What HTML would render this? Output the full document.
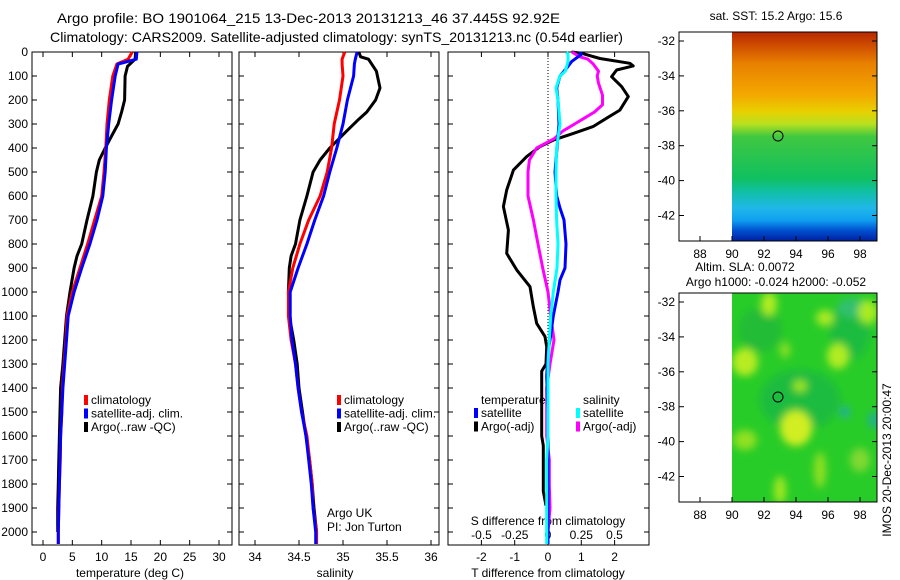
<!DOCTYPE html>
<html><head><meta charset="utf-8"><style>
html,body{margin:0;padding:0;background:#fff}
svg{display:block}
text{font-family:"Liberation Sans",sans-serif;font-size:12px;fill:#000}
</style></head><body>
<svg id="c" width="900" height="580" viewBox="0 0 900 580" xmlns="http://www.w3.org/2000/svg">
<defs>
<linearGradient id="sstg" x1="0" y1="0" x2="0" y2="1">
<stop offset="0" stop-color="#b82800"/><stop offset="0.07" stop-color="#d05000"/>
<stop offset="0.15" stop-color="#e88000"/><stop offset="0.3" stop-color="#f4a800"/>
<stop offset="0.38" stop-color="#e8d000"/><stop offset="0.44" stop-color="#b8e020"/>
<stop offset="0.5" stop-color="#40c840"/><stop offset="0.7" stop-color="#10c060"/>
<stop offset="0.76" stop-color="#10c0a0"/><stop offset="0.84" stop-color="#20b8e8"/>
<stop offset="0.9" stop-color="#10a0f0"/><stop offset="0.95" stop-color="#0050d0"/>
<stop offset="1" stop-color="#0020a0"/></linearGradient>
<filter id="blr" x="-50%" y="-50%" width="200%" height="200%"><feGaussianBlur stdDeviation="4"/></filter>
<clipPath id="clipSLA"><rect x="732" y="293" width="145" height="209"/></clipPath>
</defs>
<g id="titles">
<text x="57" y="23" textLength="503" lengthAdjust="spacingAndGlyphs" style="font-size:14px">Argo profile: BO 1901064_215 13-Dec-2013 20131213_46 37.445S 92.92E</text>
<text x="50" y="42" textLength="573" lengthAdjust="spacingAndGlyphs" style="font-size:14px">Climatology: CARS2009. Satellite-adjusted climatology: synTS_20131213.nc (0.54d earlier)</text>
</g>
<g id="p1"></g>
<g id="p2"></g>
<g id="p3"></g>
<g id="maps">
<text x="776" y="20" text-anchor="middle">sat. SST: 15.2 Argo: 15.6</text>
<rect x="732" y="32" width="145" height="209" fill="url(#sstg)"/>
<rect x="679" y="32" width="198" height="209" fill="none" stroke="#000"/>
<circle cx="778" cy="136" r="5" fill="none" stroke="#000"/>
<text x="745" y="271" text-anchor="middle">Altim. SLA: 0.0072</text>
<text x="776" y="286" text-anchor="middle">Argo h1000: -0.024 h2000: -0.052</text>
<g clip-path="url(#clipSLA)">
<rect x="732" y="293" width="145" height="209" fill="#28cc28"/>
<g filter="url(#blr)">
<ellipse cx="800" cy="400" rx="40" ry="30" fill="#10b050" opacity="0.6"/>
<ellipse cx="850" cy="330" rx="20" ry="30" fill="#10b050" opacity="0.6"/>
<ellipse cx="760" cy="330" rx="22" ry="22" fill="#20b040" opacity="0.6"/>
<ellipse cx="853" cy="308" rx="16" ry="10" fill="#30c070"/>
<ellipse cx="845" cy="412" rx="5" ry="6" fill="#20b0a0"/>
<ellipse cx="874" cy="420" rx="6" ry="8" fill="#20b090"/>
<ellipse cx="769" cy="304" rx="8" ry="12" fill="#b0ec20"/>
<ellipse cx="825" cy="318" rx="9" ry="8" fill="#a8ea20"/>
<ellipse cx="868" cy="312" rx="10" ry="12" fill="#a8ea20"/>
<ellipse cx="745" cy="362" rx="13" ry="14" fill="#b8ec20"/>
<ellipse cx="785" cy="350" rx="5" ry="8" fill="#90e020"/>
<ellipse cx="838" cy="356" rx="11" ry="13" fill="#b0ec20"/>
<ellipse cx="800" cy="386" rx="7" ry="6" fill="#a0e620"/>
<ellipse cx="796" cy="428" rx="16" ry="18" fill="#d0ee20"/>
<ellipse cx="745" cy="440" rx="12" ry="10" fill="#90e020"/>
<ellipse cx="780" cy="490" rx="6" ry="14" fill="#a0e820"/>
<ellipse cx="820" cy="470" rx="6" ry="18" fill="#90e020"/>
<ellipse cx="860" cy="460" rx="10" ry="12" fill="#80d830"/>
</g></g>
<rect x="679" y="293" width="198" height="209" fill="none" stroke="#000"/>
<circle cx="778" cy="397" r="5" fill="none" stroke="#000"/>
<text transform="translate(891,460) rotate(-90)" text-anchor="middle">IMOS 20-Dec-2013 20:00:47</text>
</g>
</svg>
<script>
// Depth levels (dbar)
const tDepth = [0,30,50,100,200,300,400,500,600,700,800,900,1000,1100,1200,1300,1400,1500,1600,1700,1800,1900,2000,2050];
const tempClim = [15.2,14.5,12.6,11.9,11.3,10.9,10.7,10.4,10.0,8.8,7.6,6.3,5.0,4.1,3.9,3.6,3.3,3.2,3.0,2.95,2.8,2.7,2.6,2.6];
const tempSat  = [16.0,15.9,12.8,12.3,11.7,11.2,10.8,10.6,10.2,9.2,8.0,6.6,5.3,4.3,4.0,3.7,3.4,3.2,3.0,2.9,2.8,2.7,2.6,2.6];
const argoDepth = [0,30,60,100,200,250,300,350,400,450,500,600,700,800,850,900,1000,1100,1200,1300,1400,1500,1600,1700,1800,1900,2000];
const tempArgo = [15.8,15.7,14.4,14.0,13.9,13.4,12.8,11.7,10.6,9.6,9.1,8.5,7.5,6.6,5.8,5.3,4.6,4.0,3.7,3.4,3.0,2.9,2.8,2.7,2.6,2.5,2.5];
const salClim = [35.02,34.99,34.99,35.0,34.96,34.90,34.87,34.82,34.74,34.61,34.51,34.43,34.38,34.38,34.41,34.46,34.49,34.53,34.59,34.62,34.65,34.66,34.70,34.70];
const salSat  = [35.16,35.14,35.13,35.12,35.05,35.0,34.93,34.85,34.78,34.68,34.59,34.49,34.40,34.40,34.42,34.46,34.49,34.53,34.58,34.61,34.64,34.66,34.69,34.69];
const salArgoDepth = [0,20,30,80,150,200,250,280,330,400,450,500,600,700,800,850,900,1000,1100,1200,1300,1400,1500,1600,1700,1800,1900,2000];
const salArgo = [35.18,35.2,35.29,35.38,35.42,35.37,35.27,35.18,35.04,34.85,34.74,34.66,34.59,34.51,34.46,34.41,34.39,34.38,34.39,34.44,34.48,34.50,34.54,34.58,34.62,34.65,34.67,34.70];
// Differences from climatology
const dArgoTDepth = [0,5,27,47,58,75,103,144,186,242,276,311,339,367,394,436,492,575,644,742,839,908,978,1061,1131,1186,1228,1300,1330,1600,1640,1830,1890];
const dArgoT = [0.71,1.0,1.56,2.46,2.56,2.06,1.91,2.21,2.41,2.16,1.76,1.35,0.76,0.16,-0.24,-0.64,-1.04,-1.24,-1.34,-1.19,-1.24,-0.94,-0.54,-0.44,-0.34,-0.09,-0.04,-0.06,-0.19,-0.19,-0.14,-0.14,-0.06];
const dSatTDepth = [0,10,40,60,100,150,200,300,400,500,600,650,700,800,900,950,1000,1100,1200,1250,1350,1500,2000,2050];
const dSatT = [0.96,1.0,0.71,0.6,0.36,0.26,0.3,0.33,0.27,0.21,0.26,0.36,0.48,0.54,0.51,0.36,0.3,0.16,0.06,0.0,-0.04,0.0,0.0,0.0];
const dArgoSDepth = [0,20,30,50,80,100,130,180,220,250,280,300,330,360,400,450,500,600,700,800,900,1000,1100,1200,1300,1400,1600,1700,1800,1900,2000];
const dArgoS = [0.18,0.24,0.30,0.34,0.38,0.37,0.38,0.41,0.41,0.35,0.26,0.20,0.11,0.05,-0.085,-0.14,-0.15,-0.15,-0.11,-0.075,-0.04,0,0.02,0.045,0.015,-0.01,-0.01,0.01,0.01,0.015,0.0];
const dSatSDepth = [0,10,40,80,100,150,200,300,400,500,600,700,800,900,1000,1100,1200,1300,1600,1700,2000,2050];
const dSatS = [0.14,0.15,0.15,0.13,0.09,0.06,0.075,0.09,0.065,0.06,0.06,0.065,0.075,0.068,0.04,0.02,0.01,0.0,0.0,-0.01,-0.01,-0.01];
const depthTicks = [0,100,200,300,400,500,600,700,800,900,1000,1100,1200,1300,1400,1500,1600,1700,1800,1900,2000];
const tempTicks = [0,5,10,15,20,25,30];
const salTicks = [34,34.5,35,35.5,36];
const dTTicks = [-2,-1,0,1,2];
const dSTicks = [-0.5,-0.25,0,0.25,0.5];
const latTicks = [-32,-34,-36,-38,-40,-42];
const lonTicks = [88,90,92,94,96,98];

const NS='http://www.w3.org/2000/svg';
const svg=document.getElementById('c');
function mk(tag,attrs,parent){const e=document.createElementNS(NS,tag);for(const k in attrs)e.setAttribute(k,attrs[k]);(parent||svg).appendChild(e);return e;}
const TOP=52, yD=d=>TOP+d*0.24, BOT=545;
const xT=v=>43+v*5.867, xS=v=>255+(v-34)*88, xdT=v=>548+v*33.3, xdS=v=>548+v*133;

function panel(g,L,R,name){
  const f=mk('rect',{x:L,y:TOP,width:R-L,height:BOT-TOP,fill:'none',stroke:'#000'},g);
  
  
  depthTicks.forEach(d=>{
    mk('line',{x1:L,x2:L+5,y1:yD(d),y2:yD(d),stroke:'#000'},g);
    mk('line',{x1:R-5,x2:R,y1:yD(d),y2:yD(d),stroke:'#000'},g);
  });
}
function line(g,xs,ds,fx,color,name){
  const pts=xs.map((v,i)=>fx(v).toFixed(1)+','+yD(ds[i]).toFixed(1)).join(' ');
  const p=mk('polyline',{points:pts,fill:'none',stroke:color,'stroke-width':3,'stroke-linejoin':'round'},g);
  
  
}
function txt(g,x,y,s,anchor,name){const t=mk('text',{x:x,y:y,'text-anchor':anchor||'start'},g);t.textContent=s;
  
  
  return t;}
function legend(g,x,y,items){items.forEach((it,i)=>{
  const r=mk('rect',{x:x,y:y+i*13.5-9,width:4,height:10,fill:it[1]},g);
  
  
  txt(g,x+7,y+i*13.5,it[0],'start','legend-entry');});}

// Panel 1
const g1=document.getElementById('p1');
panel(g1,32,232,'temperature');
depthTicks.forEach(d=>txt(g1,28,yD(d)+4,String(d),'end','depth-tick-label'));
tempTicks.forEach(v=>{mk('line',{x1:xT(v),x2:xT(v),y1:BOT,y2:BOT-5,stroke:'#000'},g1);mk('line',{x1:xT(v),x2:xT(v),y1:TOP,y2:TOP+5,stroke:'#000'},g1);txt(g1,xT(v),561,String(v),'middle','temperature-tick-label');});
txt(g1,130,577,'temperature (deg C)','middle','x-axis-title-temperature');
line(g1,tempArgo,argoDepth,xT,'#000','temperature-argo-line');
line(g1,tempClim,tDepth,xT,'#f00','temperature-climatology-line');
line(g1,tempSat,tDepth,xT,'#00f','temperature-satellite-line');
legend(g1,84,404,[['climatology','#f00'],['satellite-adj. clim.','#00f'],['Argo(..raw -QC)','#000']]);

// Panel 2
const g2=document.getElementById('p2');
panel(g2,239,439,'salinity');
salTicks.forEach(v=>{mk('line',{x1:xS(v),x2:xS(v),y1:BOT,y2:BOT-5,stroke:'#000'},g2);mk('line',{x1:xS(v),x2:xS(v),y1:TOP,y2:TOP+5,stroke:'#000'},g2);txt(g2,xS(v),561,String(v),'middle','salinity-tick-label');});
txt(g2,335,577,'salinity','middle','x-axis-title-salinity');
line(g2,salArgo,salArgoDepth,xS,'#000','salinity-argo-line');
line(g2,salClim,tDepth,xS,'#f00','salinity-climatology-line');
line(g2,salSat,tDepth,xS,'#00f','salinity-satellite-line');
legend(g2,337,404,[['climatology','#f00'],['satellite-adj. clim.','#00f'],['Argo(..raw -QC)','#000']]);
txt(g2,327,517,'Argo UK','start','institution-label');
txt(g2,327,531,'PI: Jon Turton','start','pi-label');

// Panel 3
const g3=document.getElementById('p3');
panel(g3,448,649,'difference');
const zl=mk('line',{x1:548,x2:548,y1:TOP,y2:BOT,stroke:'#000','stroke-dasharray':'1,2'},g3);


dTTicks.forEach(v=>{mk('line',{x1:xdT(v),x2:xdT(v),y1:BOT,y2:BOT-5,stroke:'#000'},g3);mk('line',{x1:xdT(v),x2:xdT(v),y1:TOP,y2:TOP+5,stroke:'#000'},g3);txt(g3,xdT(v),561,String(v),'middle','t-diff-tick-label');});
dSTicks.forEach(v=>txt(g3,xdS(v),539,String(v),'middle','s-diff-tick-label'));
txt(g3,548,525,'S difference from climatology','middle','s-diff-axis-title');
txt(g3,548,577,'T difference from climatology','middle','t-diff-axis-title');
line(g3,dArgoT,dArgoTDepth,xdT,'#000','t-diff-argo-line');
line(g3,dArgoS,dArgoSDepth,xdS,'#f0f','s-diff-argo-line');
line(g3,dSatT,dSatTDepth,xdT,'#00f','t-diff-satellite-line');
line(g3,dSatS,dSatSDepth,xdS,'#0ff','s-diff-satellite-line');
txt(g3,481,404,'temperature','start','legend-title-temperature');
legend(g3,474,417,[['satellite','#00f'],['Argo(-adj)','#000']]);
txt(g3,583,404,'salinity','start','legend-title-salinity');
legend(g3,576,417,[['satellite','#0ff'],['Argo(-adj)','#f0f']]);

// Map axes
const gm=document.getElementById('maps');
[[32,241,41],[293,502,302]].forEach(([t,b,y32],k)=>{
  latTicks.forEach(v=>{const y=y32+(-32-v)*17.45;
    mk('line',{x1:679,x2:684,y1:y,y2:y,stroke:'#000'},gm);mk('line',{x1:872,x2:877,y1:y,y2:y,stroke:'#000'},gm);
    txt(gm,675,y+4,String(v),'end','latitude-tick-label');});
  lonTicks.forEach(v=>{const x=732+(v-90)*16;
    mk('line',{x1:x,x2:x,y1:b,y2:b-5,stroke:'#000'},gm);
    txt(gm,x,b+17,String(v),'middle','longitude-tick-label');});
});
</script>
</body></html>
